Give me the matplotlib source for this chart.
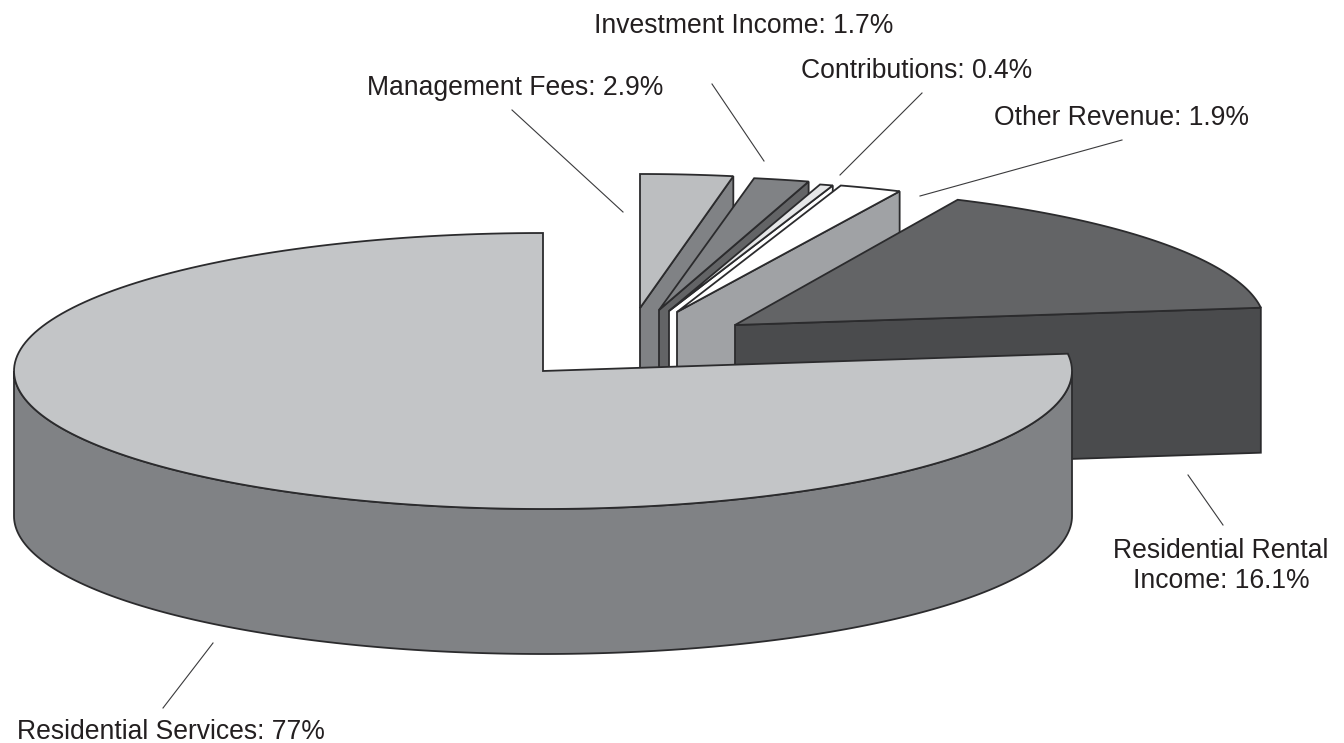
import numpy as np
import matplotlib
matplotlib.use("Agg")
import matplotlib.pyplot as plt
from matplotlib.patches import Polygon

plt.rcParams['font.family'] = ['Liberation Sans', 'DejaVu Sans']

# Slices counter clockwise starting from 12 o'clock
names = ["Residential Services", "Residential Rental Income", "Other Revenue",
         "Contributions", "Investment Income", "Management Fees"]
shares = [77, 16.1, 1.9, 0.4, 1.7, 2.9]

# Labels, leader lines
label_text = ["Residential Services: 77%", "Residential Rental\nIncome: 16.1%",
              "Other Revenue: 1.9%", "Contributions: 0.4%",
              "Investment Income: 1.7%", "Management Fees: 2.9%"]
label_pos = [(171, 732), (1221, 566), (1122, 118), (917, 71), (744, 26), (515, 88)]
leaders = [((163, 708), (213, 643)), ((1223, 525), (1188, 475)),
           ((1122, 140), (920, 196)), ((922, 93), (840, 175)),
           ((712, 84), (764, 161)), ((512, 110), (623, 212))]

# Layout of the pie, in pixels (far slices come out a bit smaller)
rxs = [529, 530, 530, 530, 525, 515]
rys = [138, 138, 133, 132, 134, 134]
depth = 145
apexes = [(543, 371), (735, 325), (677, 312), (669, 311), (659, 310), (640, 308)]
top_colors = ["#c3c5c7", "#636466", "#ffffff", "#e6e7e8", "#808285", "#bcbec0"]
side_colors = ["#808285", "#4a4b4d", "#a0a2a5", "#ffffff", "#636466", "#808285"]
edge = "#2b2b2d"


def rim(apex, rx, ry, a0, a1):
    t = np.radians(np.linspace(a0, a1, 200))
    return np.column_stack([apex[0] + rx * np.cos(t), apex[1] - ry * np.sin(t)])


# Angles of each slice
ends = 90 + np.cumsum(shares) * 3.6
starts = ends - np.array(shares) * 3.6

fig = plt.figure(figsize=(13.44, 7.43), dpi=100)
ax = fig.add_axes([0, 0, 1, 1])
ax.set_xlim(0, 1344)
ax.set_ylim(743, 0)
ax.axis("off")

# Small slices back to front, main slice last
for i in [5, 4, 3, 2, 1]:
    apex = np.array(apexes[i], dtype=float)
    arc = rim(apex, rxs[i], rys[i], starts[i] - 360, ends[i] - 360)
    corner = arc[0]
    face = [apex, corner, corner + [0, depth], apex + [0, depth]]
    ax.add_patch(Polygon(face, closed=True, fc=side_colors[i], ec=edge, lw=1.3, joinstyle="miter"))
    top = np.vstack([apex, arc])
    ax.add_patch(Polygon(top, closed=True, fc=top_colors[i], ec=edge, lw=1.3, joinstyle="miter"))

# Main slice with its visible rim
apex = np.array(apexes[0], dtype=float)
front = rim(apex, rxs[0], rys[0], 180, 360)
side = np.vstack([front, (front + [0, depth])[::-1]])
ax.add_patch(Polygon(side, closed=True, fc=side_colors[0], ec=edge, lw=1.3))
top = np.vstack([apex, rim(apex, rxs[0], rys[0], starts[0], ends[0])])
ax.add_patch(Polygon(top, closed=True, fc=top_colors[0], ec=edge, lw=1.3, joinstyle="miter"))

for (p0, p1) in leaders:
    ax.plot([p0[0], p1[0]], [p0[1], p1[1]], color="#3a3a3c", lw=0.8)

for txt, pos in zip(label_text, label_pos):
    ax.text(pos[0], pos[1], txt, ha="center", va="center", fontsize=19.1,
            color="#231f20", linespacing=1.2)

fig.savefig("out.png", dpi=100, facecolor="white")
